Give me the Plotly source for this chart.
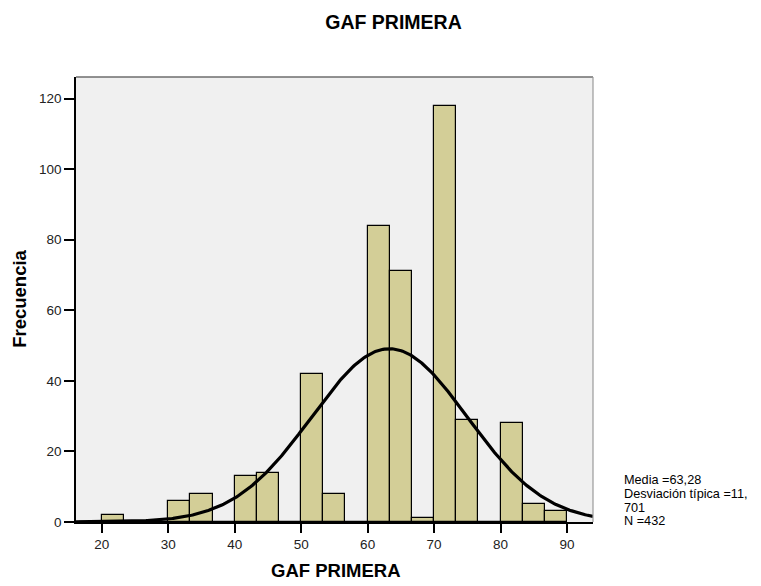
import numpy as np
import plotly.graph_objects as go

# Histogram of GAF PRIMERA scores (bin width 10/3)
bin_width = 10 / 3
bin_start = 50 / 3  # lower edge of the first bin (16.67)
counts = [0, 2, 0, 0, 6, 8, 0, 13, 14, 0, 42, 8, 0, 84, 71, 1, 118, 29, 0, 28, 5, 3]

x_ticks = [20, 30, 40, 50, 60, 70, 80, 90]
y_ticks = [0, 20, 40, 60, 80, 100, 120]

media = 63.28
desv = 11.701
n_total = 432

stats_lines = ["Media =63,28", "Desviación típica =11,", "701", "N =432"]

x_range = [16.13, 93.9]
y_range = [0, 126.1]

centers = [bin_start + (i + 0.5) * bin_width for i in range(len(counts))]

# Normal curve scaled to the histogram counts
xs = np.linspace(x_range[0], x_range[1], 400)
ys = n_total * bin_width * np.exp(-0.5 * ((xs - media) / desv) ** 2) / (desv * np.sqrt(2 * np.pi))

FONT = "Liberation Sans, Arial, sans-serif"

fig = go.Figure()
fig.add_trace(go.Bar(
    x=centers, y=counts, width=bin_width,
    marker=dict(color="#D3CE97", line=dict(color="#000000", width=1.2)),
    hoverinfo="x+y",
))
fig.add_trace(go.Scatter(
    x=xs, y=ys, mode="lines",
    line=dict(color="#000000", width=3.2),
    hoverinfo="skip",
))

L, R, T, B = 76, 168, 77, 64
W, H = 761, 586
ph = H - T - B

fig.update_layout(
    width=W, height=H,
    margin=dict(l=L, r=R, t=T, b=B),
    paper_bgcolor="#FFFFFF",
    plot_bgcolor="#F0F0F0",
    showlegend=False,
    bargap=0,
    font=dict(family=FONT, color="#000000", size=13),
    title=dict(
        text="<b>GAF PRIMERA</b>",
        x=393.5 / W, xref="container", xanchor="center",
        y=1 - 22.5 / H, yref="container", yanchor="middle",
        font=dict(family=FONT, size=19.5, color="#000000"),
    ),
    xaxis=dict(
        range=x_range, tickvals=x_ticks, ticktext=[str(v) for v in x_ticks],
        showgrid=False, zeroline=False,
        showline=True, linecolor="#000000", linewidth=1.5,
        ticks="outside", ticklen=9, tickwidth=1.5, tickcolor="#000000",
        tickfont=dict(family=FONT, size=13.5, color="#222222"),
    ),
    yaxis=dict(
        range=y_range, tickvals=y_ticks, ticktext=[str(v) for v in y_ticks],
        showgrid=False, zeroline=False,
        showline=True, linecolor="#000000", linewidth=1.5,
        ticks="outside", ticklen=10, tickwidth=1.5, tickcolor="#000000",
        tickfont=dict(family=FONT, size=13.5, color="#222222"),
    ),
)

# frame on the top and right of the plot area
fig.add_shape(type="line", xref="paper", yref="paper", x0=0, x1=1, y0=1, y1=1,
              line=dict(color="#6E6E6E", width=1.5))
fig.add_shape(type="line", xref="paper", yref="paper", x0=1, x1=1, y0=0, y1=1,
              line=dict(color="#9A9A9A", width=1.2))

# axis titles
fig.add_annotation(
    text="<b>GAF PRIMERA</b>", xref="paper", yref="paper",
    x=(336 - L) / (W - L - R), y=(T + ph - 570.7) / ph,
    xanchor="center", yanchor="middle", showarrow=False,
    font=dict(family=FONT, size=18.5, color="#000000"),
)
fig.add_annotation(
    text="<b>Frecuencia</b>", xref="paper", yref="paper",
    x=(18.8 - L) / (W - L - R), y=(T + ph - 299) / ph, textangle=-90,
    xanchor="center", yanchor="middle", showarrow=False,
    font=dict(family=FONT, size=18.5, color="#000000"),
)

# summary statistics
line_y = [480.3, 494.0, 507.5, 521.0]
for txt, py in zip(stats_lines, line_y):
    fig.add_annotation(
        text=txt, xref="paper", yref="paper",
        x=(621.7 - L) / (W - L - R), y=(T + ph - py) / ph,
        xanchor="left", yanchor="middle", showarrow=False,
        font=dict(family=FONT, size=12.7, color="#000000"),
    )

fig.write_html("out.html")
